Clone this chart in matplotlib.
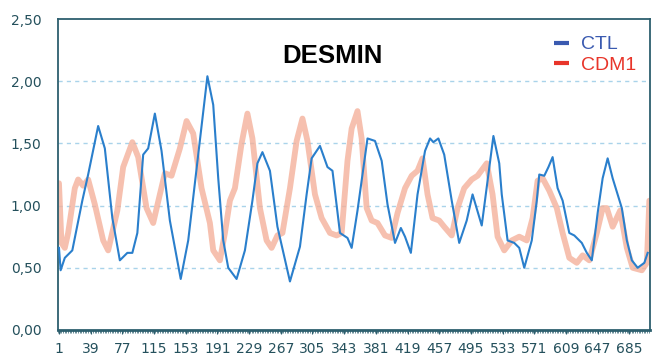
import matplotlib
matplotlib.use("Agg")
import matplotlib.pyplot as plt
from matplotlib.ticker import FixedLocator, MultipleLocator

# ---- data ----
title = "DESMIN"
series_names = ["CTL", "CDM1"]
tick_positions = [1, 39, 77, 115, 153, 191, 229, 267, 305, 343, 381, 419, 457, 495, 533, 571, 609, 647, 685]
y_ticks = [0.0, 0.5, 1.0, 1.5, 2.0, 2.5]

ctl_x = [1, 3, 8, 17, 29, 36, 48, 56, 65, 74, 83, 89, 95, 102, 108, 116, 124, 134, 147, 156,
         168, 179, 186, 192, 198, 204, 214, 224, 233, 239, 245, 254, 263, 278, 290, 298, 304,
         314, 323, 329, 338, 347, 352, 359, 371, 380, 388, 395, 404, 411, 416, 423, 431, 440,
         446, 450, 456, 463, 472, 481, 490, 497, 508, 515, 522, 529, 532, 539, 547, 553, 559,
         568, 574, 577, 583, 588, 593, 599, 605, 613, 619, 628, 634, 640, 647, 653, 659, 665,
         676, 682, 688, 695, 703, 707]
ctl_y = [0.66, 0.48, 0.58, 0.64, 1.04, 1.25, 1.64, 1.46, 0.90, 0.56, 0.62, 0.62, 0.78, 1.41,
         1.46, 1.74, 1.44, 0.88, 0.41, 0.72, 1.41, 2.04, 1.81, 1.22, 0.72, 0.50, 0.41, 0.64,
         1.04, 1.34, 1.43, 1.28, 0.83, 0.39, 0.67, 1.09, 1.38, 1.48, 1.31, 1.28, 0.78, 0.74,
         0.66, 0.96, 1.54, 1.52, 1.36, 1.01, 0.70, 0.82, 0.75, 0.62, 1.09, 1.44, 1.54, 1.51,
         1.54, 1.41, 1.04, 0.70, 0.88, 1.09, 0.84, 1.20, 1.56, 1.34, 1.09, 0.72, 0.70, 0.66,
         0.50, 0.72, 1.04, 1.25, 1.24, 1.31, 1.39, 1.14, 1.04, 0.78, 0.76, 0.70, 0.62, 0.56,
         0.94, 1.22, 1.38, 1.22, 0.98, 0.72, 0.56, 0.50, 0.54, 0.62]

cdm1_x = [1, 4, 8, 12, 20, 24, 30, 36, 44, 54, 60, 71, 78, 89, 96, 106, 114, 122, 128, 136,
          146, 154, 162, 172, 182, 186, 194, 200, 206, 212, 220, 227, 233, 242, 250, 256, 263,
          269, 278, 286, 293, 299, 308, 316, 326, 334, 340, 347, 352, 359, 364, 370, 376, 383,
          392, 400, 407, 416, 424, 431, 437, 443, 449, 457, 463, 472, 479, 487, 496, 503, 514,
          521, 527, 535, 544, 553, 562, 569, 575, 581, 589, 598, 605, 613, 622, 629, 637, 646,
          653, 658, 665, 674, 682, 689, 700, 706, 709]
cdm1_y = [1.18, 0.70, 0.66, 0.78, 1.14, 1.21, 1.16, 1.21, 1.01, 0.72, 0.64, 0.96, 1.31, 1.51,
          1.39, 0.98, 0.86, 1.09, 1.26, 1.24, 1.46, 1.68, 1.58, 1.14, 0.86, 0.64, 0.56, 0.78,
          1.04, 1.14, 1.50, 1.74, 1.54, 0.98, 0.72, 0.66, 0.76, 0.78, 1.14, 1.52, 1.70, 1.52,
          1.09, 0.90, 0.78, 0.76, 0.78, 1.36, 1.62, 1.76, 1.54, 0.98, 0.88, 0.86, 0.76, 0.74,
          0.94, 1.14, 1.24, 1.28, 1.38, 1.09, 0.90, 0.88, 0.83, 0.76, 0.98, 1.14, 1.21, 1.24,
          1.34, 1.09, 0.75, 0.64, 0.72, 0.75, 0.72, 0.90, 1.20, 1.22, 1.12, 0.98, 0.78, 0.58,
          0.54, 0.60, 0.56, 0.78, 0.98, 0.98, 0.83, 0.96, 0.66, 0.50, 0.48, 0.54, 1.04]

# ---- styling ----
blue = "#2a7fcc"
salmon = "#f4b19b"
frame = "#2d5f6e"
label_col = "#24505c"
legend_cols = ["#3a5ab0", "#e8352a"]

fig = plt.figure(figsize=(6.55, 3.63), dpi=100)
ax = fig.add_axes([0.0885, 0.091, 0.9035, 0.8565])

ax.plot(cdm1_x, cdm1_y, color=salmon, lw=4.2, alpha=0.8, solid_capstyle="round",
        solid_joinstyle="round", zorder=2)
ax.plot(ctl_x, ctl_y, color=blue, lw=1.5, solid_joinstyle="round", zorder=3)

ax.set_xlim(-0.2, 709.5)
ax.set_ylim(0, 2.5)

ax.xaxis.set_major_locator(FixedLocator(tick_positions))
ax.xaxis.set_minor_locator(MultipleLocator(2))
ax.set_xticklabels([str(t) for t in tick_positions])
ax.set_yticks(y_ticks)
ax.set_yticklabels([f"{v:.2f}".replace(".", ",") for v in y_ticks])

ax.tick_params(axis="x", which="major", length=3, width=0.8, color=frame, pad=6,
               labelsize=10, labelcolor=label_col)
ax.tick_params(axis="x", which="minor", length=2.5, width=0.5, color=frame)
ax.tick_params(axis="y", length=0, pad=12, labelsize=10, labelcolor=label_col)

for s in ["left", "top", "right"]:
    ax.spines[s].set_color(frame)
    ax.spines[s].set_linewidth(1.3)
ax.spines["bottom"].set_color(frame)
ax.spines["bottom"].set_linewidth(2.0)

for yv in y_ticks[1:-1]:
    ax.axhline(yv, color="#a9d3ea", lw=1.0, ls=(0, (3, 3)), zorder=1)

ax.text(0.463, 0.88, title, transform=ax.transAxes, ha="center", va="center",
        fontsize=18.5, fontweight="bold", family=["Liberation Sans", "DejaVu Sans"], color="black")

handles = [plt.Line2D([], [], color=c, lw=3, solid_capstyle="butt") for c in legend_cols]
leg = ax.legend(handles=handles, labels=series_names,
                loc="upper right", bbox_to_anchor=(1.0, 0.99), frameon=False, handlelength=0.8,
                handletextpad=0.6, labelspacing=0.15, borderaxespad=0.3,
                prop={"family": ["Liberation Sans", "DejaVu Sans"], "size": 14},
                labelcolor=legend_cols)

fig.savefig("out.png", dpi=100, facecolor="white")
